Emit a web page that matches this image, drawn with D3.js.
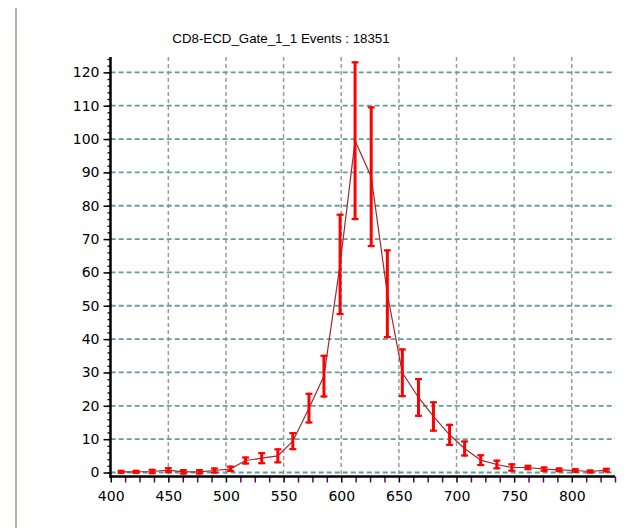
<!DOCTYPE html>
<html>
<head>
<meta charset="utf-8">
<script src="https://cdn.jsdelivr.net/npm/d3@7"></script>
<style>
  body { margin: 0; background: #fff; }
  svg { display: block; }
</style>
</head>
<body>
<svg id="chart"></svg>
<script>
const width = 631;
const height = 528;

const title = 'CD8-ECD_Gate_1_1 Events : 18351';

// bin centres, counts and error half-lengths
const binX = [409, 422, 436, 450, 463, 477, 490, 504, 517, 531, 545, 558, 572, 585, 599, 612,
              626, 640, 653, 667, 680, 694, 707, 721, 735, 748, 762, 776, 789, 803, 816, 830];
const counts = [0.2, 0.2, 0.3, 0.7, 0.2, 0.2, 0.6, 1.1, 3.6, 4.3, 5.0, 9.4, 19.3, 28.9, 62.4, 99.5,
                88.7, 53.6, 29.9, 22.5, 16.8, 11.3, 7.2, 3.7, 2.4, 1.5, 1.5, 1.0, 0.8, 0.6, 0.3, 0.7];
const errs = [0.3, 0.3, 0.5, 0.6, 0.5, 0.5, 0.6, 0.65, 0.9, 1.5, 1.95, 2.4, 4.3, 6.1, 14.9, 23.5,
              20.8, 13.0, 7.0, 5.5, 4.25, 3.0, 2.1, 1.45, 1.15, 0.95, 0.5, 0.5, 0.4, 0.4, 0.3, 0.4];

const xTicks = [400, 450, 500, 550, 600, 650, 700, 750, 800];
const yTicks = [0, 10, 20, 30, 40, 50, 60, 70, 80, 90, 100, 110, 120];

const data = binX.map((v, i) => ({x: v, y: counts[i], e: errs[i]}));

const svg = d3.select('#chart')
    .attr('width', width)
    .attr('height', height);

const x = d3.scaleLinear().domain([400, 837.5]).range([110.7, 615]);
const y = d3.scaleLinear().domain([0, 124.6]).range([472.5, 57]);

const axisY = 476.5;   // x axis sits a little under the zero line

// left panel edge
svg.append('line')
    .attr('x1', 16).attr('x2', 16)
    .attr('y1', 8).attr('y2', height)
    .attr('stroke', '#b4b0a4')
    .attr('stroke-width', 2);

svg.append('text')
    .attr('x', 281).attr('y', 43)
    .attr('text-anchor', 'middle')
    .style('font-family', 'Liberation Sans, Arial, sans-serif')
    .style('font-size', '13.3px')
    .attr('fill', '#000')
    .text(title);

// grid
const grid = svg.append('g');
grid.selectAll('.vgrid').data(xTicks.filter(d => d > 400)).enter().append('line')
    .attr('class', 'vgrid')
    .attr('x1', d => x(d)).attr('x2', d => x(d))
    .attr('y1', y(124.6)).attr('y2', axisY)
    .attr('stroke', '#9a9a9a')
    .attr('stroke-width', 1.5)
    .attr('stroke-dasharray', '4,3');

grid.selectAll('.hgrid').data(yTicks).enter().append('line')
    .attr('class', 'hgrid')
    .attr('x1', x(400)).attr('x2', x(837.5))
    .attr('y1', d => y(d)).attr('y2', d => y(d))
    .attr('stroke', '#5f9e9e')
    .attr('stroke-width', 1.8)
    .attr('stroke-dasharray', '5,3');

// axes
const xAxis = svg.append('g').attr('transform', `translate(0, ${axisY})`);
xAxis.call(d3.axisBottom(x).tickValues(d3.range(400, 838, 12.5)).tickSize(6).tickFormat(''));
xAxis.selectAll('.tick line')
    .attr('stroke', d => d % 50 === 0 ? '#000' : '#660066')
    .attr('stroke-width', 1.5);
xAxis.select('.domain').remove();

const xLab = svg.append('g').attr('transform', `translate(0, ${axisY})`);
xLab.call(d3.axisBottom(x).tickValues(xTicks).tickSize(0).tickPadding(15));
xLab.select('.domain').remove();
xLab.selectAll('text')
    .style('font-family', 'DejaVu Sans, sans-serif')
    .style('font-size', '14px')
    .attr('fill', '#000');

const yAxis = svg.append('g').attr('transform', 'translate(110.5, 0)');
yAxis.call(d3.axisLeft(y).tickValues(d3.range(0, 125, 2)).tickSize(3).tickFormat(''));
yAxis.selectAll('.tick line').attr('stroke', '#000').attr('stroke-width', 1.3);
yAxis.select('.domain').remove();

const yLab = svg.append('g').attr('transform', 'translate(110.5, 0)');
yLab.call(d3.axisLeft(y).tickValues(yTicks).tickSize(7).tickPadding(4));
yLab.select('.domain').remove();
yLab.selectAll('.tick line').attr('stroke', '#000').attr('stroke-width', 1.5);
yLab.selectAll('text')
    .style('font-family', 'DejaVu Sans, sans-serif')
    .style('font-size', '14px')
    .attr('fill', '#000');

svg.append('line')
    .attr('x1', 110.5).attr('x2', 110.5)
    .attr('y1', y(124.6)).attr('y2', axisY + 1.5)
    .attr('stroke', '#000').attr('stroke-width', 2.5);
svg.append('line')
    .attr('x1', 109.5).attr('x2', x(837.5))
    .attr('y1', axisY).attr('y2', axisY)
    .attr('stroke', '#000').attr('stroke-width', 2.5);

// data line
const line = d3.line().x(d => x(d.x)).y(d => y(d.y));
svg.append('path')
    .datum(data)
    .attr('fill', 'none')
    .attr('stroke', '#9b2b2b')
    .attr('stroke-width', 1.2)
    .attr('d', line);

// error bars
const bars = svg.append('g').selectAll('g').data(data).enter().append('g');
bars.append('line')
    .attr('x1', d => x(d.x)).attr('x2', d => x(d.x))
    .attr('y1', d => y(d.y + d.e) - 1).attr('y2', d => y(d.y - d.e) + 1)
    .attr('stroke', '#ff0000').attr('stroke-width', 3);
bars.append('line')
    .attr('x1', d => x(d.x) - 3.5).attr('x2', d => x(d.x) + 3.5)
    .attr('y1', d => y(d.y + d.e)).attr('y2', d => y(d.y + d.e))
    .attr('stroke', '#ff0000').attr('stroke-width', 2.2);
bars.append('line')
    .attr('x1', d => x(d.x) - 3.5).attr('x2', d => x(d.x) + 3.5)
    .attr('y1', d => y(d.y - d.e)).attr('y2', d => y(d.y - d.e))
    .attr('stroke', '#ff0000').attr('stroke-width', 2.2);
</script>
</body>
</html>
